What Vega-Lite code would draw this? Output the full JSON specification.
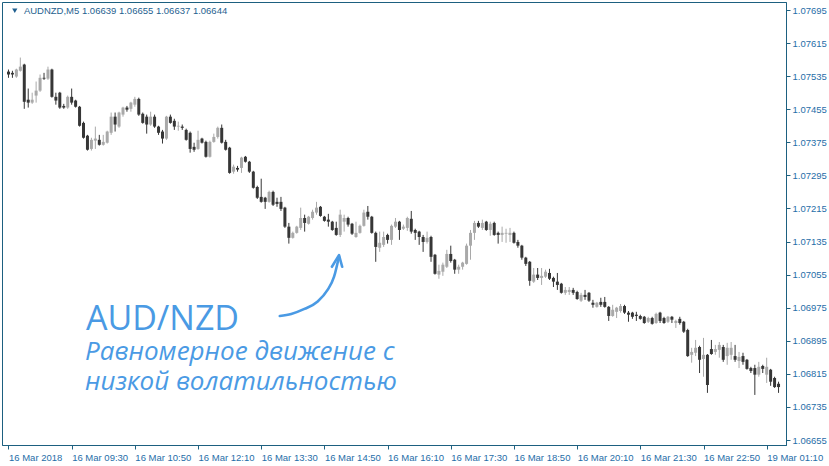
{
"$schema": "https://vega.github.io/schema/vega-lite/v6.json",
"width": 784, "height": 443,
"autosize": {"type": "none"},
"padding": {"left": 2, "top": 2, "right": 43, "bottom": 21},
"background": "white",
"config": {"view": {"stroke": "#1d6080", "strokeWidth": 1}, "axis": {"labelOverlap": false, "labelFlush": false, "grid": false, "title": null}},
"datasets": {
"candles": [
{"i":0,"o":1.07546,"h":1.07551,"l":1.07531,"c":1.07539},
{"i":1,"o":1.07543,"h":1.07548,"l":1.07531,"c":1.07539},
{"i":2,"o":1.07534,"h":1.07553,"l":1.07531,"c":1.07551},
{"i":3,"o":1.07548,"h":1.07580,"l":1.07546,"c":1.07558},
{"i":4,"o":1.07563,"h":1.07565,"l":1.07456,"c":1.07473},
{"i":5,"o":1.07478,"h":1.07505,"l":1.07459,"c":1.07471},
{"i":6,"o":1.07471,"h":1.07495,"l":1.07468,"c":1.07478},
{"i":7,"o":1.07488,"h":1.07522,"l":1.07471,"c":1.07500},
{"i":8,"o":1.07500,"h":1.07539,"l":1.07497,"c":1.07531},
{"i":9,"o":1.07531,"h":1.07543,"l":1.07526,"c":1.07529},
{"i":10,"o":1.07529,"h":1.07558,"l":1.07526,"c":1.07551},
{"i":11,"o":1.07551,"h":1.07553,"l":1.07483,"c":1.07485},
{"i":12,"o":1.07485,"h":1.07495,"l":1.07466,"c":1.07476},
{"i":13,"o":1.07495,"h":1.07497,"l":1.07456,"c":1.07459},
{"i":14,"o":1.07463,"h":1.07468,"l":1.07456,"c":1.07459},
{"i":15,"o":1.07459,"h":1.07488,"l":1.07456,"c":1.07485},
{"i":16,"o":1.07485,"h":1.07505,"l":1.07466,"c":1.07471},
{"i":17,"o":1.07476,"h":1.07478,"l":1.07459,"c":1.07461},
{"i":18,"o":1.07461,"h":1.07463,"l":1.07413,"c":1.07415},
{"i":19,"o":1.07422,"h":1.07425,"l":1.07384,"c":1.07386},
{"i":20,"o":1.07391,"h":1.07393,"l":1.07355,"c":1.07357},
{"i":21,"o":1.07359,"h":1.07386,"l":1.07355,"c":1.07381},
{"i":22,"o":1.07379,"h":1.07413,"l":1.07359,"c":1.07384},
{"i":23,"o":1.07381,"h":1.07393,"l":1.07367,"c":1.07369},
{"i":24,"o":1.07369,"h":1.07393,"l":1.07367,"c":1.07376},
{"i":25,"o":1.07374,"h":1.07403,"l":1.07372,"c":1.07401},
{"i":26,"o":1.07398,"h":1.07447,"l":1.07393,"c":1.07437},
{"i":27,"o":1.07437,"h":1.07447,"l":1.07401,"c":1.07418},
{"i":28,"o":1.07413,"h":1.07449,"l":1.07410,"c":1.07447},
{"i":29,"o":1.07442,"h":1.07461,"l":1.07437,"c":1.07459},
{"i":30,"o":1.07459,"h":1.07463,"l":1.07449,"c":1.07454},
{"i":31,"o":1.07456,"h":1.07473,"l":1.07449,"c":1.07471},
{"i":32,"o":1.07466,"h":1.07485,"l":1.07461,"c":1.07480},
{"i":33,"o":1.07480,"h":1.07483,"l":1.07439,"c":1.07442},
{"i":34,"o":1.07444,"h":1.07447,"l":1.07420,"c":1.07422},
{"i":35,"o":1.07437,"h":1.07442,"l":1.07396,"c":1.07418},
{"i":36,"o":1.07418,"h":1.07449,"l":1.07415,"c":1.07437},
{"i":37,"o":1.07437,"h":1.07442,"l":1.07410,"c":1.07413},
{"i":38,"o":1.07413,"h":1.07415,"l":1.07393,"c":1.07398},
{"i":39,"o":1.07401,"h":1.07405,"l":1.07372,"c":1.07384},
{"i":40,"o":1.07384,"h":1.07439,"l":1.07381,"c":1.07437},
{"i":41,"o":1.07437,"h":1.07442,"l":1.07420,"c":1.07422},
{"i":42,"o":1.07427,"h":1.07432,"l":1.07405,"c":1.07413},
{"i":43,"o":1.07413,"h":1.07425,"l":1.07403,"c":1.07415},
{"i":44,"o":1.07413,"h":1.07418,"l":1.07405,"c":1.07410},
{"i":45,"o":1.07405,"h":1.07408,"l":1.07379,"c":1.07381},
{"i":46,"o":1.07398,"h":1.07401,"l":1.07350,"c":1.07359},
{"i":47,"o":1.07364,"h":1.07374,"l":1.07352,"c":1.07357},
{"i":48,"o":1.07359,"h":1.07403,"l":1.07357,"c":1.07381},
{"i":49,"o":1.07384,"h":1.07386,"l":1.07372,"c":1.07374},
{"i":50,"o":1.07376,"h":1.07379,"l":1.07338,"c":1.07340},
{"i":51,"o":1.07340,"h":1.07379,"l":1.07338,"c":1.07376},
{"i":52,"o":1.07376,"h":1.07396,"l":1.07374,"c":1.07388},
{"i":53,"o":1.07388,"h":1.07413,"l":1.07384,"c":1.07410},
{"i":54,"o":1.07410,"h":1.07418,"l":1.07372,"c":1.07374},
{"i":55,"o":1.07376,"h":1.07381,"l":1.07355,"c":1.07357},
{"i":56,"o":1.07362,"h":1.07364,"l":1.07299,"c":1.07301},
{"i":57,"o":1.07304,"h":1.07321,"l":1.07299,"c":1.07316},
{"i":58,"o":1.07313,"h":1.07318,"l":1.07304,"c":1.07309},
{"i":59,"o":1.07313,"h":1.07340,"l":1.07301,"c":1.07338},
{"i":60,"o":1.07340,"h":1.07342,"l":1.07326,"c":1.07328},
{"i":61,"o":1.07328,"h":1.07330,"l":1.07301,"c":1.07304},
{"i":62,"o":1.07304,"h":1.07306,"l":1.07263,"c":1.07265},
{"i":63,"o":1.07267,"h":1.07270,"l":1.07238,"c":1.07241},
{"i":64,"o":1.07243,"h":1.07287,"l":1.07229,"c":1.07231},
{"i":65,"o":1.07241,"h":1.07243,"l":1.07214,"c":1.07231},
{"i":66,"o":1.07231,"h":1.07258,"l":1.07229,"c":1.07255},
{"i":67,"o":1.07255,"h":1.07258,"l":1.07221,"c":1.07224},
{"i":68,"o":1.07231,"h":1.07241,"l":1.07219,"c":1.07226},
{"i":69,"o":1.07231,"h":1.07243,"l":1.07209,"c":1.07214},
{"i":70,"o":1.07217,"h":1.07219,"l":1.07168,"c":1.07171},
{"i":71,"o":1.07171,"h":1.07180,"l":1.07130,"c":1.07144},
{"i":72,"o":1.07144,"h":1.07159,"l":1.07142,"c":1.07156},
{"i":73,"o":1.07156,"h":1.07173,"l":1.07154,"c":1.07171},
{"i":74,"o":1.07168,"h":1.07217,"l":1.07163,"c":1.07192},
{"i":75,"o":1.07192,"h":1.07200,"l":1.07159,"c":1.07180},
{"i":76,"o":1.07178,"h":1.07197,"l":1.07176,"c":1.07195},
{"i":77,"o":1.07192,"h":1.07212,"l":1.07188,"c":1.07207},
{"i":78,"o":1.07205,"h":1.07231,"l":1.07200,"c":1.07217},
{"i":79,"o":1.07219,"h":1.07221,"l":1.07195,"c":1.07197},
{"i":80,"o":1.07195,"h":1.07197,"l":1.07183,"c":1.07185},
{"i":81,"o":1.07188,"h":1.07202,"l":1.07171,"c":1.07183},
{"i":82,"o":1.07183,"h":1.07185,"l":1.07161,"c":1.07163},
{"i":83,"o":1.07168,"h":1.07183,"l":1.07149,"c":1.07151},
{"i":84,"o":1.07151,"h":1.07212,"l":1.07146,"c":1.07200},
{"i":85,"o":1.07183,"h":1.07200,"l":1.07159,"c":1.07192},
{"i":86,"o":1.07192,"h":1.07195,"l":1.07171,"c":1.07176},
{"i":87,"o":1.07178,"h":1.07180,"l":1.07151,"c":1.07154},
{"i":88,"o":1.07146,"h":1.07183,"l":1.07144,"c":1.07156},
{"i":89,"o":1.07156,"h":1.07176,"l":1.07154,"c":1.07173},
{"i":90,"o":1.07173,"h":1.07212,"l":1.07171,"c":1.07205},
{"i":91,"o":1.07207,"h":1.07221,"l":1.07188,"c":1.07195},
{"i":92,"o":1.07195,"h":1.07197,"l":1.07154,"c":1.07156},
{"i":93,"o":1.07156,"h":1.07159,"l":1.07086,"c":1.07122},
{"i":94,"o":1.07120,"h":1.07159,"l":1.07110,"c":1.07132},
{"i":95,"o":1.07127,"h":1.07159,"l":1.07122,"c":1.07146},
{"i":96,"o":1.07151,"h":1.07154,"l":1.07130,"c":1.07139},
{"i":97,"o":1.07139,"h":1.07176,"l":1.07127,"c":1.07173},
{"i":98,"o":1.07171,"h":1.07192,"l":1.07168,"c":1.07183},
{"i":99,"o":1.07183,"h":1.07185,"l":1.07139,"c":1.07163},
{"i":100,"o":1.07166,"h":1.07176,"l":1.07163,"c":1.07171},
{"i":101,"o":1.07168,"h":1.07195,"l":1.07161,"c":1.07192},
{"i":102,"o":1.07190,"h":1.07209,"l":1.07154,"c":1.07159},
{"i":103,"o":1.07163,"h":1.07166,"l":1.07139,"c":1.07156},
{"i":104,"o":1.07159,"h":1.07161,"l":1.07127,"c":1.07146},
{"i":105,"o":1.07146,"h":1.07151,"l":1.07110,"c":1.07134},
{"i":106,"o":1.07134,"h":1.07159,"l":1.07130,"c":1.07144},
{"i":107,"o":1.07146,"h":1.07149,"l":1.07086,"c":1.07098},
{"i":108,"o":1.07103,"h":1.07105,"l":1.07055,"c":1.07057},
{"i":109,"o":1.07055,"h":1.07079,"l":1.07045,"c":1.07064},
{"i":110,"o":1.07062,"h":1.07084,"l":1.07052,"c":1.07079},
{"i":111,"o":1.07074,"h":1.07115,"l":1.07071,"c":1.07105},
{"i":112,"o":1.07105,"h":1.07125,"l":1.07084,"c":1.07088},
{"i":113,"o":1.07091,"h":1.07093,"l":1.07057,"c":1.07067},
{"i":114,"o":1.07067,"h":1.07079,"l":1.07057,"c":1.07074},
{"i":115,"o":1.07074,"h":1.07086,"l":1.07067,"c":1.07084},
{"i":116,"o":1.07081,"h":1.07130,"l":1.07079,"c":1.07125},
{"i":117,"o":1.07125,"h":1.07163,"l":1.07091,"c":1.07156},
{"i":118,"o":1.07156,"h":1.07185,"l":1.07139,"c":1.07180},
{"i":119,"o":1.07180,"h":1.07185,"l":1.07168,"c":1.07171},
{"i":120,"o":1.07168,"h":1.07188,"l":1.07163,"c":1.07180},
{"i":121,"o":1.07183,"h":1.07185,"l":1.07161,"c":1.07163},
{"i":122,"o":1.07163,"h":1.07183,"l":1.07149,"c":1.07178},
{"i":123,"o":1.07180,"h":1.07183,"l":1.07149,"c":1.07151},
{"i":124,"o":1.07156,"h":1.07159,"l":1.07130,"c":1.07151},
{"i":125,"o":1.07151,"h":1.07171,"l":1.07134,"c":1.07156},
{"i":126,"o":1.07154,"h":1.07166,"l":1.07132,"c":1.07156},
{"i":127,"o":1.07151,"h":1.07168,"l":1.07134,"c":1.07156},
{"i":128,"o":1.07156,"h":1.07159,"l":1.07130,"c":1.07132},
{"i":129,"o":1.07134,"h":1.07139,"l":1.07120,"c":1.07125},
{"i":130,"o":1.07125,"h":1.07127,"l":1.07091,"c":1.07096},
{"i":131,"o":1.07096,"h":1.07098,"l":1.07076,"c":1.07081},
{"i":132,"o":1.07086,"h":1.07088,"l":1.07028,"c":1.07040},
{"i":133,"o":1.07038,"h":1.07071,"l":1.07035,"c":1.07055},
{"i":134,"o":1.07055,"h":1.07071,"l":1.07042,"c":1.07047},
{"i":135,"o":1.07047,"h":1.07071,"l":1.07030,"c":1.07052},
{"i":136,"o":1.07050,"h":1.07067,"l":1.07047,"c":1.07062},
{"i":137,"o":1.07059,"h":1.07069,"l":1.07042,"c":1.07045},
{"i":138,"o":1.07047,"h":1.07050,"l":1.07025,"c":1.07038},
{"i":139,"o":1.07038,"h":1.07059,"l":1.07018,"c":1.07030},
{"i":140,"o":1.07033,"h":1.07035,"l":1.07009,"c":1.07011},
{"i":141,"o":1.07011,"h":1.07025,"l":1.07006,"c":1.07018},
{"i":142,"o":1.07013,"h":1.07025,"l":1.07006,"c":1.07018},
{"i":143,"o":1.07018,"h":1.07023,"l":1.07006,"c":1.07011},
{"i":144,"o":1.07013,"h":1.07016,"l":1.06994,"c":1.06996},
{"i":145,"o":1.06992,"h":1.07011,"l":1.06989,"c":1.07006},
{"i":146,"o":1.07006,"h":1.07018,"l":1.06994,"c":1.07001},
{"i":147,"o":1.07011,"h":1.07013,"l":1.06989,"c":1.06992},
{"i":148,"o":1.06987,"h":1.06994,"l":1.06975,"c":1.06982},
{"i":149,"o":1.06977,"h":1.06989,"l":1.06975,"c":1.06987},
{"i":150,"o":1.06989,"h":1.06999,"l":1.06977,"c":1.06982},
{"i":151,"o":1.06989,"h":1.07001,"l":1.06975,"c":1.06977},
{"i":152,"o":1.06977,"h":1.06979,"l":1.06943,"c":1.06955},
{"i":153,"o":1.06955,"h":1.06982,"l":1.06953,"c":1.06970},
{"i":154,"o":1.06965,"h":1.06977,"l":1.06950,"c":1.06975},
{"i":155,"o":1.06967,"h":1.06984,"l":1.06963,"c":1.06979},
{"i":156,"o":1.06979,"h":1.06982,"l":1.06960,"c":1.06963},
{"i":157,"o":1.06963,"h":1.06967,"l":1.06941,"c":1.06958},
{"i":158,"o":1.06963,"h":1.06965,"l":1.06948,"c":1.06953},
{"i":159,"o":1.06958,"h":1.06965,"l":1.06943,"c":1.06955},
{"i":160,"o":1.06955,"h":1.06958,"l":1.06946,"c":1.06948},
{"i":161,"o":1.06953,"h":1.06955,"l":1.06936,"c":1.06938},
{"i":162,"o":1.06941,"h":1.06953,"l":1.06938,"c":1.06950},
{"i":163,"o":1.06950,"h":1.06953,"l":1.06934,"c":1.06936},
{"i":164,"o":1.06938,"h":1.06963,"l":1.06936,"c":1.06960},
{"i":165,"o":1.06963,"h":1.06965,"l":1.06938,"c":1.06943},
{"i":166,"o":1.06950,"h":1.06953,"l":1.06936,"c":1.06938},
{"i":167,"o":1.06941,"h":1.06955,"l":1.06938,"c":1.06953},
{"i":168,"o":1.06953,"h":1.06955,"l":1.06938,"c":1.06946},
{"i":169,"o":1.06938,"h":1.06946,"l":1.06926,"c":1.06943},
{"i":170,"o":1.06948,"h":1.06953,"l":1.06934,"c":1.06938},
{"i":171,"o":1.06941,"h":1.06943,"l":1.06914,"c":1.06917},
{"i":172,"o":1.06921,"h":1.06924,"l":1.06856,"c":1.06858},
{"i":173,"o":1.06861,"h":1.06878,"l":1.06842,"c":1.06868},
{"i":174,"o":1.06866,"h":1.06897,"l":1.06858,"c":1.06878},
{"i":175,"o":1.06880,"h":1.06883,"l":1.06817,"c":1.06849},
{"i":176,"o":1.06851,"h":1.06902,"l":1.06808,"c":1.06861},
{"i":177,"o":1.06861,"h":1.06863,"l":1.06769,"c":1.06788},
{"i":178,"o":1.06875,"h":1.06897,"l":1.06861,"c":1.06863},
{"i":179,"o":1.06868,"h":1.06885,"l":1.06861,"c":1.06875},
{"i":180,"o":1.06873,"h":1.06892,"l":1.06854,"c":1.06885},
{"i":181,"o":1.06880,"h":1.06885,"l":1.06844,"c":1.06849},
{"i":182,"o":1.06858,"h":1.06890,"l":1.06837,"c":1.06878},
{"i":183,"o":1.06861,"h":1.06892,"l":1.06849,"c":1.06878},
{"i":184,"o":1.06858,"h":1.06885,"l":1.06844,"c":1.06849},
{"i":185,"o":1.06846,"h":1.06868,"l":1.06829,"c":1.06856},
{"i":186,"o":1.06858,"h":1.06866,"l":1.06837,"c":1.06844},
{"i":187,"o":1.06849,"h":1.06851,"l":1.06825,"c":1.06827},
{"i":188,"o":1.06829,"h":1.06832,"l":1.06817,"c":1.06822},
{"i":189,"o":1.06829,"h":1.06837,"l":1.06764,"c":1.06813},
{"i":190,"o":1.06813,"h":1.06844,"l":1.06808,"c":1.06832},
{"i":191,"o":1.06834,"h":1.06837,"l":1.06817,"c":1.06827},
{"i":192,"o":1.06813,"h":1.06854,"l":1.06793,"c":1.06832},
{"i":193,"o":1.06825,"h":1.06827,"l":1.06786,"c":1.06796},
{"i":194,"o":1.06805,"h":1.06808,"l":1.06781,"c":1.06783},
{"i":195,"o":1.06791,"h":1.06796,"l":1.06769,"c":1.06783}
],
"shaft": [
{"i":68.7,"p":1.06955},{"i":71.6,"p":1.06960},{"i":74.95,"p":1.06972},{"i":78.3,"p":1.06990},{"i":80.8,"p":1.07018},{"i":82.45,"p":1.07050},{"i":83.7,"p":1.07099}
],
"head": [
{"i":81.9,"p":1.07074},{"i":83.7,"p":1.07102},{"i":84.5,"p":1.07074}
]
},
"layer": [
{
"data": {"name": "candles"},
"mark": {"type": "rule", "strokeWidth": 1, "clip": true},
"encoding": {
"x": {"field": "i", "type": "quantitative", "title": null,
"scale": {"domain": [-0.375, 195.625], "nice": false, "zero": false},
"axis": {"orient": "bottom", "values": [0,16,32,48,64,80,96,112,128,144,160,176,192], "tickCount": 30,
"labelExpr": "['16 Mar 2018','16 Mar 09:30','16 Mar 10:50','16 Mar 12:10','16 Mar 13:30','16 Mar 14:50','16 Mar 16:10','16 Mar 17:30','16 Mar 18:50','16 Mar 20:10','16 Mar 21:30','16 Mar 22:50','19 Mar 01:10'][round(datum.value/16)]",
"title": null, "grid": false, "domainColor": "#1d6080", "tickColor": "#1d6080", "tickSize": 4,
"labelAlign": "left", "labelPadding": 3, "labelFont": "Liberation Sans", "labelFontSize": 9.5,
"labelColor": "#1f6ea8", "labelFlush": false, "labelOverlap": false, "labelBound": false}},
"y": {"field": "l", "type": "quantitative", "title": null,
"scale": {"domain": [1.0664291, 1.0771435], "nice": false, "zero": false},
"axis": {"orient": "right", "values": [1.06655,1.06735,1.06815,1.06895,1.06975,1.07055,1.07135,1.07215,1.07295,1.07375,1.07455,1.07535,1.07615,1.07695], "tickCount": 30,
"format": ".5f", "title": null, "grid": false, "domainColor": "#1d6080", "tickColor": "#1d6080", "tickSize": 4,
"labelPadding": 2, "labelFont": "Liberation Sans", "labelFontSize": 9.5, "labelColor": "#1f6ea8", "labelOverlap": false, "labelFlush": false}},
"y2": {"field": "h"},
"color": {"condition": {"test": "datum.o > datum.c", "value": "#363636"}, "value": "#a9a9a9"}
}
},
{
"data": {"name": "candles"},
"mark": {"type": "bar", "size": 3, "clip": true},
"encoding": {
"x": {"field": "i", "type": "quantitative", "title": null},
"y": {"field": "o", "type": "quantitative", "title": null},
"y2": {"field": "c"},
"color": {"condition": {"test": "datum.o > datum.c", "value": "#363636"}, "value": "#a9a9a9"}
}
},
{
"data": {"name": "shaft"},
"mark": {"type": "line", "interpolate": "monotone", "strokeWidth": 2.6, "strokeCap": "round", "color": "#4a9ae4"},
"encoding": {
"x": {"field": "i", "type": "quantitative", "title": null},
"y": {"field": "p", "type": "quantitative", "title": null}
}
},
{
"data": {"name": "head"},
"mark": {"type": "line", "strokeWidth": 2.6, "strokeCap": "round", "strokeJoin": "round", "color": "#4a9ae4"},
"encoding": {
"x": {"field": "i", "type": "quantitative", "title": null},
"y": {"field": "p", "type": "quantitative", "title": null}
}
},
{
"data": {"values": [{"t": "AUD/NZD", "i": 19.6, "p": 1.06921}]},
"mark": {"type": "text", "align": "left", "baseline": "alphabetic", "font": "Open Sans", "fontSize": 34, "color": "#4a9ae4"},
"encoding": {
"x": {"field": "i", "type": "quantitative", "title": null},
"y": {"field": "p", "type": "quantitative", "title": null},
"text": {"field": "t"}
}
},
{
"data": {"values": [{"t": "Равномерное движение с", "i": 19.4, "p": 1.06848}, {"t": "низкой волатильностью", "i": 19.4, "p": 1.06776}]},
"mark": {"type": "text", "align": "left", "baseline": "alphabetic", "font": "Open Sans", "fontSize": 26, "fontStyle": "italic", "color": "#4a9ae4"},
"encoding": {
"x": {"field": "i", "type": "quantitative", "title": null},
"y": {"field": "p", "type": "quantitative", "title": null},
"text": {"field": "t"}
}
},
{
"data": {"values": [{"i": 1.6, "p": 1.07693}]},
"mark": {"type": "point", "shape": "triangle-down", "filled": true, "size": 28, "opacity": 1, "color": "#1f5f8f"},
"encoding": {
"x": {"field": "i", "type": "quantitative", "title": null},
"y": {"field": "p", "type": "quantitative", "title": null}
}
},
{
"data": {"values": [{"t": "AUDNZD,M5  1.06639 1.06655 1.06637 1.06644", "i": 3.9, "p": 1.07686}]},
"mark": {"type": "text", "align": "left", "baseline": "alphabetic", "font": "Liberation Sans", "fontSize": 9.5, "color": "#1f5f8f"},
"encoding": {
"x": {"field": "i", "type": "quantitative", "title": null},
"y": {"field": "p", "type": "quantitative", "title": null},
"text": {"field": "t"}
}
}
]
}
